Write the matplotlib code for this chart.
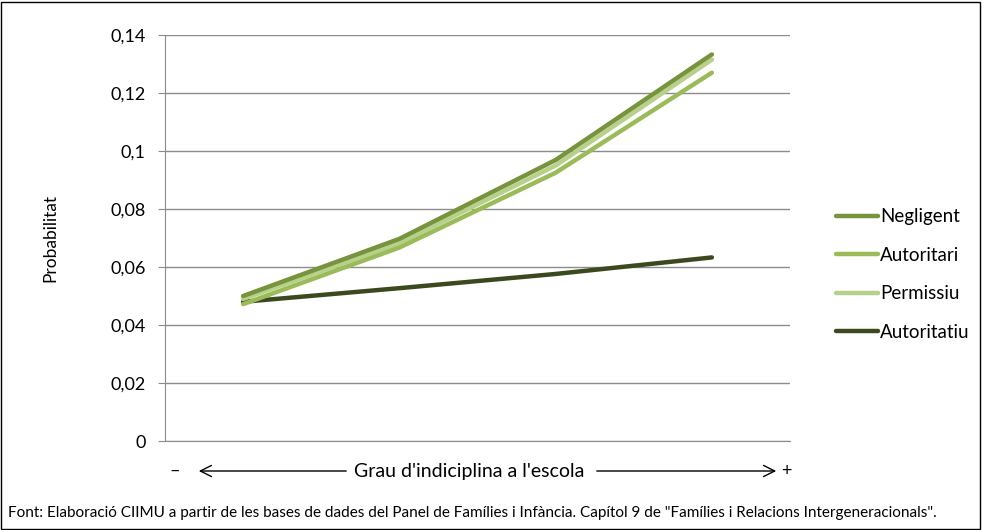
import matplotlib.pyplot as plt
from matplotlib.patches import Rectangle

plt.rcParams['font.family'] = ['Lato', 'DejaVu Sans']

# dades
categories = ['1', '2', '3', '4']
series = ['Negligent', 'Autoritari', 'Permissiu', 'Autoritatiu']
negligent = [0.0500, 0.0697, 0.0969, 0.1333]
autoritari = [0.0472, 0.0667, 0.0925, 0.1270]
permissiu = [0.0490, 0.0682, 0.0950, 0.1315]
autoritatiu = [0.0480, 0.0527, 0.0576, 0.0633]
yticks = [0, 0.02, 0.04, 0.06, 0.08, 0.1, 0.12, 0.14]
ytick_labels = ['0', '0,02', '0,04', '0,06', '0,08', '0,1', '0,12', '0,14']

colors = ['#77933C', '#9BBB59', '#B7D08A', '#3B4A1E']
values = [negligent, autoritari, permissiu, autoritatiu]

fig = plt.figure(figsize=(9.82, 5.30), dpi=100)
W, H = 982, 530
ax = fig.add_axes([165 / W, 1 - 441 / H, (790 - 165) / W, (441 - 35) / H])

x = list(range(len(categories)))
# al revés perquè Negligent quedi a sobre
for name, vals, col in reversed(list(zip(series, values, colors))):
    ax.plot(x, vals, color=col, lw=3.2, solid_capstyle='round', label=name)

ax.set_xlim(-0.5, len(categories) - 0.5)
ax.set_ylim(0, 0.14)
ax.set_yticks(yticks)
ax.set_yticklabels(ytick_labels, fontsize=13)
ax.set_xticks([])
ax.yaxis.grid(True, color='#8C8C8C', lw=1)
ax.set_axisbelow(True)
for s in ['top', 'right']:
    ax.spines[s].set_visible(False)
for s in ['left', 'bottom']:
    ax.spines[s].set_color('#8C8C8C')
ax.tick_params(axis='y', length=5, color='#8C8C8C', pad=9)
ax.set_ylabel('Probabilitat', fontsize=12.5, labelpad=37)

handles, labels = ax.get_legend_handles_labels()
leg = ax.legend(handles[::-1], labels[::-1], loc='center left',
                bbox_to_anchor=(1.062, 0.41), frameon=False, fontsize=13.5,
                handlelength=2.2, handletextpad=0.15, labelspacing=1.15,
                borderaxespad=0)

# eix x amb fletxes
yx = 1 - 471 / H
fig.text(175 / W, yx, '–', ha='center', va='center', fontsize=13)
fig.text(786 / W, yx, '+', ha='center', va='center', fontsize=13)
fig.text(469 / W, yx, "Grau d'indiciplina a l'escola", ha='center', va='center', fontsize=14)
fig.add_artist(plt.Annotation('', xy=(196 / W, yx), xytext=(349 / W, yx),
                              xycoords='figure fraction', textcoords='figure fraction',
                              arrowprops=dict(arrowstyle='->', lw=1, color='black', mutation_scale=20)))
fig.add_artist(plt.Annotation('', xy=(779 / W, yx), xytext=(594 / W, yx),
                              xycoords='figure fraction', textcoords='figure fraction',
                              arrowprops=dict(arrowstyle='->', lw=1, color='black', mutation_scale=20)))

fig.text(8 / W, 1 - 513 / H,
         'Font: Elaboració CIIMU a partir de les bases de dades del Panel de Famílies i Infància. '
         'Capítol 9 de "Famílies i Relacions Intergeneracionals".',
         ha='left', va='center', fontsize=11)

fig.add_artist(Rectangle((1 / W, 1 / H), 1 - 3 / W, 1 - 3 / H, transform=fig.transFigure,
                         fill=False, edgecolor='black', lw=1))

fig.savefig('out.png', dpi=100)
